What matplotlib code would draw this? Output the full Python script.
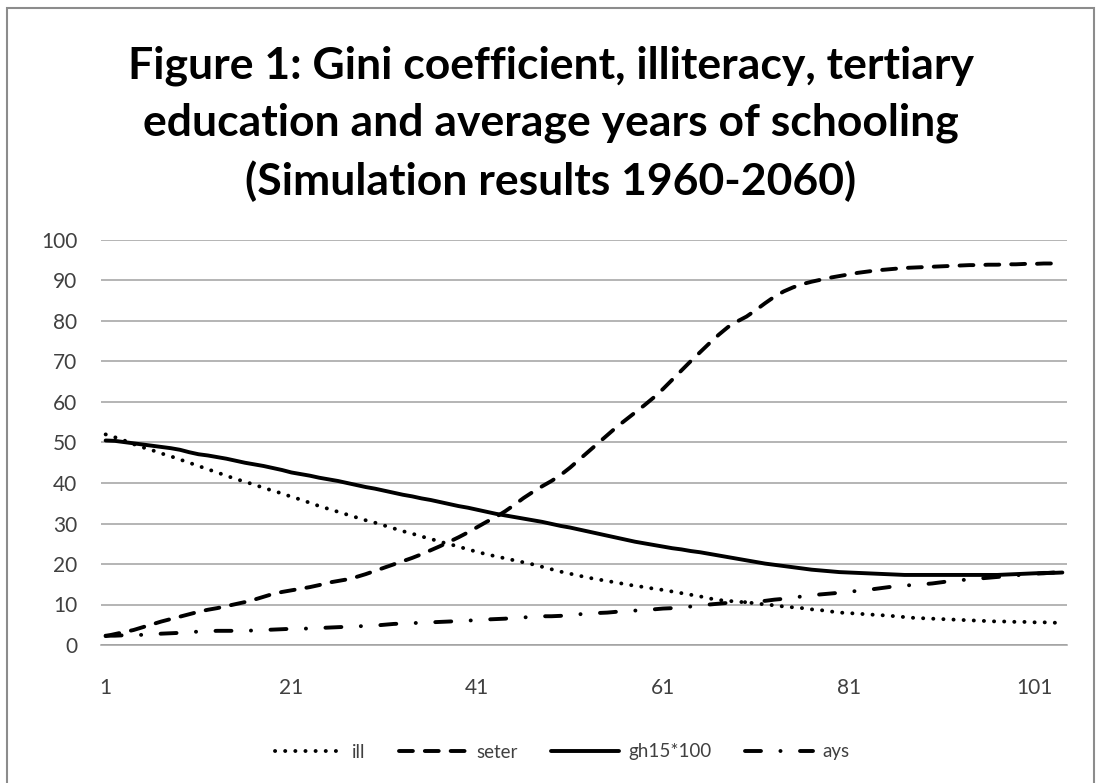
import matplotlib
matplotlib.use("Agg")
import matplotlib.pyplot as plt
from matplotlib.patches import Rectangle

plt.rcParams['font.family'] = ['Lato', 'DejaVu Sans']
plt.rcParams['lines.scale_dashes'] = False

# simulation periods 1..104
periods = list(range(1, 105))

ill = [52.0, 51.3, 50.5, 49.6, 48.8, 48.1, 47.3, 46.6, 45.8, 45.0,
       44.2, 43.4, 42.6, 41.8, 41.0, 40.3, 39.6, 38.8, 38.1, 37.4,
       36.6, 35.9, 35.1, 34.3, 33.6, 32.9, 32.2, 31.5, 30.8, 30.2,
       29.5, 28.8, 28.1, 27.5, 26.8, 26.2, 25.5, 24.9, 24.3, 23.6,
       23.0, 22.4, 21.9, 21.4, 20.9, 20.4, 19.9, 19.3, 18.7, 18.1,
       17.6, 17.1, 16.6, 16.2, 15.8, 15.4, 15.0, 14.6, 14.3, 13.9,
       13.6, 13.2, 12.8, 12.4, 12.0, 11.5, 11.1, 10.9, 10.7, 10.5,
       10.3, 10.0, 9.8, 9.5, 9.3, 9.1, 8.8, 8.6, 8.3, 8.0,
       7.9, 7.7, 7.6, 7.4, 7.3, 7.1, 6.9, 6.7, 6.6, 6.5,
       6.4, 6.3, 6.2, 6.1, 6.0, 5.9, 5.8, 5.8, 5.7, 5.7,
       5.6, 5.6, 5.5, 5.5]

seter = [2.2, 2.7, 3.2, 3.7, 4.4, 5.1, 5.8, 6.4, 7.0, 7.6,
         8.2, 8.7, 9.1, 9.6, 10.1, 10.6, 11.2, 11.9, 12.6, 13.1,
         13.5, 13.9, 14.3, 14.8, 15.4, 15.8, 16.2, 16.8, 17.5, 18.3,
         19.1, 19.9, 20.7, 21.5, 22.4, 23.4, 24.4, 25.5, 26.6, 27.8,
         29.1, 30.4, 31.6, 33.0, 34.6, 36.3, 37.8, 39.2, 40.5, 42.0,
         43.8, 45.8, 47.8, 49.8, 51.8, 53.8, 55.6, 57.4, 59.2, 61.1,
         63.2, 65.5, 67.8, 70.1, 72.3, 74.5, 76.6, 78.5, 79.9, 81.1,
         82.7, 84.4, 86.0, 87.3, 88.3, 89.1, 89.7, 90.2, 90.7, 91.1,
         91.5, 91.9, 92.2, 92.5, 92.7, 92.9, 93.1, 93.2, 93.3, 93.4,
         93.5, 93.6, 93.7, 93.8, 93.8, 93.9, 93.9, 94.0, 94.0, 94.1,
         94.1, 94.2, 94.2, 94.2]

gini = [50.5, 50.4, 50.1, 49.8, 49.5, 49.2, 48.9, 48.6, 48.2, 47.6,
        47.1, 46.8, 46.4, 46.0, 45.5, 45.0, 44.6, 44.2, 43.7, 43.2,
        42.6, 42.2, 41.8, 41.3, 40.9, 40.5, 40.0, 39.5, 39.0, 38.6,
        38.1, 37.6, 37.1, 36.7, 36.2, 35.8, 35.3, 34.8, 34.3, 33.9,
        33.4, 32.9, 32.4, 32.0, 31.6, 31.2, 30.8, 30.4, 29.9, 29.4,
        29.0, 28.5, 28.0, 27.5, 27.0, 26.5, 26.0, 25.5, 25.1, 24.7,
        24.3, 23.9, 23.6, 23.2, 22.9, 22.5, 22.1, 21.7, 21.3, 20.9,
        20.5, 20.1, 19.8, 19.5, 19.2, 18.9, 18.6, 18.4, 18.2, 18.0,
        17.9, 17.8, 17.7, 17.6, 17.5, 17.4, 17.3, 17.3, 17.3, 17.3,
        17.3, 17.3, 17.3, 17.3, 17.3, 17.3, 17.3, 17.4, 17.5, 17.6,
        17.7, 17.8, 17.8, 17.9]

ays = [2.3, 2.3, 2.4, 2.5, 2.5, 2.6, 2.8, 2.9, 3.0, 3.2,
       3.3, 3.4, 3.5, 3.5, 3.5, 3.5, 3.6, 3.7, 3.8, 3.9,
       4.0, 4.0, 4.1, 4.2, 4.3, 4.4, 4.5, 4.6, 4.7, 4.8,
       5.0, 5.2, 5.3, 5.4, 5.5, 5.6, 5.7, 5.8, 5.9, 6.0,
       6.2, 6.3, 6.4, 6.5, 6.7, 6.8, 7.0, 7.1, 7.1, 7.2,
       7.4, 7.6, 7.7, 7.9, 8.0, 8.2, 8.3, 8.5, 8.6, 8.8,
       9.0, 9.1, 9.3, 9.5, 9.8, 10.0, 10.2, 10.4, 10.5, 10.6,
       10.7, 10.9, 11.2, 11.4, 11.7, 12.0, 12.3, 12.5, 12.7, 12.9,
       13.1, 13.4, 13.6, 13.9, 14.2, 14.5, 14.7, 14.8, 15.0, 15.2,
       15.5, 15.8, 16.0, 16.2, 16.4, 16.6, 16.8, 17.0, 17.2, 17.4,
       17.6, 17.7, 17.9, 18.0]

xticks = [1, 21, 41, 61, 81, 101]
yticks = list(range(0, 101, 10))

title = ("Figure 1: Gini coefficient, illiteracy, tertiary\n"
         "education and average years of schooling\n"
         "(Simulation results 1960-2060)")

fig = plt.figure(figsize=(11.02, 7.83), dpi=100)
ax = fig.add_axes([101 / 1102, 1 - 645 / 783, 966 / 1102, 405 / 783])

lw = 2.8
ax.plot(periods, ill, color='black', lw=lw, linestyle=(0, (0.1, 7.2)),
        dash_capstyle='round', label='ill')
ax.plot(periods, seter, color='black', lw=lw, linestyle=(0, (10, 8.6)),
        dash_capstyle='round', label='seter')
ax.plot(periods, gini, color='black', lw=lw, solid_capstyle='round',
        label='gh15*100')
ax.plot(periods, ays, color='black', lw=lw,
        linestyle=(0, (11.5, 14, 0.1, 14)), dash_capstyle='round',
        label='ays')

ax.set_xlim(0.5, 104.5)
ax.set_ylim(0, 100)
ax.set_xticks(xticks)
ax.set_yticks(yticks)
ax.grid(axis='y', color='#a0a0a0', lw=1.1)
ax.set_axisbelow(True)
for s in ['left', 'right', 'top']:
    ax.spines[s].set_visible(False)
ax.spines['bottom'].set_color('#a0a0a0')
ax.spines['bottom'].set_linewidth(1.1)
ax.tick_params(length=0, labelsize=15, labelcolor='#404040')
ax.tick_params(axis='y', pad=17)
ax.tick_params(axis='x', pad=24)

fig.text(0.5, 1 - 124 / 783, title, ha='center', va='center',
         fontsize=32, fontweight='bold', linespacing=1.5, color='black')

fig.legend(loc='center', bbox_to_anchor=(0.51, 1 - 752 / 783), ncol=4,
           frameon=False, fontsize=13.5, handlelength=3.6, handletextpad=0.5,
           columnspacing=1.8, labelcolor='#404040')

fig.patches.append(Rectangle((7 / 1102, -0.02), 1087 / 1102, 1.02 - 8 / 783,
                             transform=fig.transFigure, fill=False,
                             edgecolor='#8c8c8c', lw=1.5))

fig.savefig('out.png', dpi=100)
